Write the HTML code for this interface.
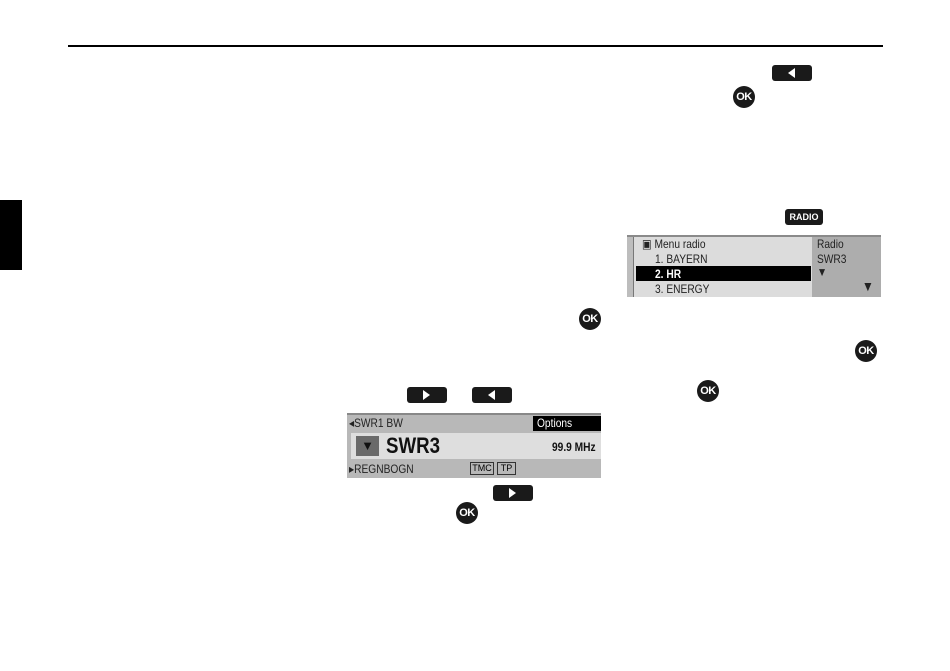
<!DOCTYPE html>
<html><head><meta charset="utf-8"><style>
body{margin:0;width:950px;height:671px;background:#fff;position:relative;overflow:hidden;font-family:"Liberation Sans",sans-serif}
.a{position:absolute}
.btn{position:absolute;background:#1a1a1a;border-radius:3px;width:40px;height:16px}
.btn svg{position:absolute;left:15px;top:3px}
.ok{position:absolute;width:22px;height:22px;border-radius:50%;background:#1a1a1a;color:#fff;font:bold 11px "Liberation Sans",sans-serif;text-align:center;line-height:22px;letter-spacing:-0.5px}
.t{position:absolute;font-family:"Liberation Sans Narrow","Liberation Sans",sans-serif;font-size:12px;color:#222;white-space:nowrap;transform:scaleX(.85);transform-origin:left}
</style></head><body>
<div class="a" style="left:68px;top:45px;width:815px;height:2px;background:#000"></div>
<div class="a" style="left:0;top:200px;width:22px;height:70px;background:#000"></div>

<div class="btn" style="left:772px;top:65px"><svg width="10" height="10"><polygon points="8,0 8,10 1,5" fill="#fff"/></svg></div>
<div class="ok" style="left:733px;top:86px">OK</div>

<div class="a" style="left:785px;top:209px;width:38px;height:16px;background:#1a1a1a;border-radius:3px;color:#fff;font:bold 9px 'Liberation Sans',sans-serif;text-align:center;line-height:16px">RADIO</div>

<div class="a" style="left:627px;top:235px;width:254px;height:62px;background:#bdbdbd"></div>
<div class="a" style="left:627px;top:235px;width:254px;height:2px;background:#8a8a8a"></div>
<div class="a" style="left:633px;top:237px;width:178px;height:60px;background:#dcdcdc;border-left:1px solid #777;border-right:1px solid #777"></div>
<div class="a" style="left:812px;top:237px;width:69px;height:60px;background:#adadad"></div>
<div class="a" style="left:636px;top:266px;width:175px;height:15px;background:#000"></div>
<div class="t" style="left:642px;top:237px">▣ Menu radio</div>
<div class="t" style="left:655px;top:252px">1. BAYERN</div>
<div class="t" style="left:655px;top:267px;color:#fff;font-weight:bold">2. HR</div>
<div class="t" style="left:655px;top:282px">3. ENERGY</div>
<div class="t" style="left:817px;top:237px">Radio</div>
<div class="t" style="left:817px;top:252px">SWR3</div>
<div class="t" style="left:817px;top:265px">▼</div>
<div class="t" style="left:862px;top:278px;font-size:14px">▼</div>

<div class="ok" style="left:579px;top:308px">OK</div>
<div class="ok" style="left:855px;top:340px">OK</div>
<div class="ok" style="left:697px;top:380px">OK</div>

<div class="btn" style="left:407px;top:387px"><svg width="10" height="10"><polygon points="1,0 1,10 8,5" fill="#fff"/></svg></div>
<div class="btn" style="left:472px;top:387px"><svg width="10" height="10"><polygon points="8,0 8,10 1,5" fill="#fff"/></svg></div>

<div class="a" style="left:347px;top:413px;width:254px;height:65px;background:#b8b8b8"></div>
<div class="a" style="left:347px;top:413px;width:254px;height:2px;background:#888"></div>
<div class="a" style="left:533px;top:416px;width:68px;height:15px;background:#000"></div>
<div class="t" style="left:537px;top:416px;color:#fff">Options</div>
<div class="t" style="left:349px;top:416px">◂SWR1 BW</div>
<div class="a" style="left:351px;top:433px;width:250px;height:26px;background:#dedede"></div>
<div class="a" style="left:356px;top:436px;width:23px;height:20px;background:#6a6a6a;color:#111;font-size:13px;text-align:center;line-height:20px">▼</div>
<div class="t" style="left:386px;top:433px;font-size:22px;font-weight:bold;color:#111">SWR3</div>
<div class="t" style="left:552px;top:440px;font-size:12px;font-weight:bold;color:#111">99.9 MHz</div>
<div class="t" style="left:349px;top:462px">▸REGNBOGN</div>
<div class="a" style="left:470px;top:462px;width:22px;height:11px;border:1px solid #333;font-size:9px;line-height:11px;text-align:center">TMC</div>
<div class="a" style="left:497px;top:462px;width:17px;height:11px;border:1px solid #333;font-size:9px;line-height:11px;text-align:center">TP</div>

<div class="btn" style="left:493px;top:485px"><svg width="10" height="10"><polygon points="1,0 1,10 8,5" fill="#fff"/></svg></div>
<div class="ok" style="left:456px;top:502px">OK</div>
</body></html>
